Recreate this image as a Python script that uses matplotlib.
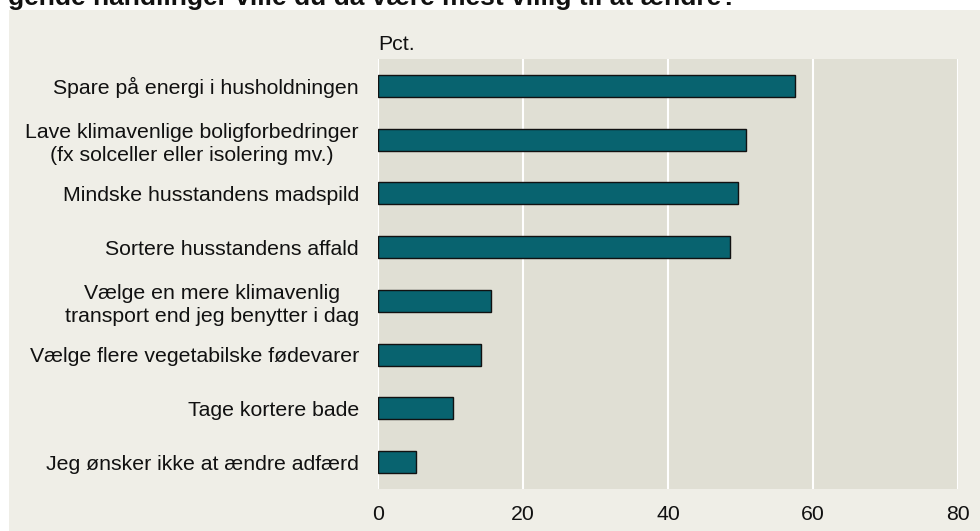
import matplotlib
matplotlib.use("Agg")
import matplotlib.pyplot as plt
from matplotlib.patches import Rectangle

categories = [
    "Spare på energi i husholdningen",
    "Lave klimavenlige boligforbedringer\n(fx solceller eller isolering mv.)",
    "Mindske husstandens madspild",
    "Sortere husstandens affald",
    "Vælge en mere klimavenlig\ntransport end jeg benytter i dag",
    "Vælge flere vegetabilske fødevarer",
    "Tage kortere bade",
    "Jeg ønsker ikke at ændre adfærd",
]
values = [57.5, 50.8, 49.7, 48.6, 15.6, 14.2, 10.3, 5.3]
xticks = [0, 20, 40, 60, 80]
title = "gende handlinger ville du da være mest villig til at ændre?"

plt.rcParams['font.family'] = ['Liberation Sans', 'DejaVu Sans']

W, H = 980, 531
FS = 15.3
fig = plt.figure(figsize=(W / 100, H / 100), dpi=100)
fig.patch.set_facecolor("white")
fig.patches.append(Rectangle((9 / W, 0), 1 - 9 / W, (H - 10) / H, transform=fig.transFigure,
                             facecolor="#EFEEE7", edgecolor="none", zorder=-10))

ax = fig.add_axes([378 / W, (H - 489) / H, (958 - 378) / W, (489 - 59) / H])
ax.set_facecolor("#E0DFD4")
ypos = list(range(len(categories)))
ax.barh(ypos, values, height=0.41, color="#08636F", edgecolor="#111111", linewidth=1.0, zorder=3)
ax.set_ylim(len(categories) - 0.5, -0.5)
ax.set_xlim(0, 80)
ax.set_xticks(xticks)
ax.set_xticklabels([str(t) for t in xticks], fontsize=FS, color="#111111")
ax.set_yticks(ypos)
ax.set_yticklabels(categories, fontsize=FS, color="#111111", ha="right",
                   multialignment="center", linespacing=1.3)
ax.tick_params(axis="both", length=0)
ax.tick_params(axis="y", pad=13.7)
ax.tick_params(axis="x", pad=11.5)
ax.grid(axis="x", color="white", linewidth=1.5, zorder=1)
ax.set_axisbelow(True)
for s in ax.spines.values():
    s.set_visible(False)

fig.text(378 / W, 1 - 45 / H, "Pct.", fontsize=FS, ha="left", va="center", color="#111111")
fig.text(8 / W, 1 - 5 / H, title, fontsize=19, fontweight="bold", ha="left", va="baseline", color="#111111")

fig.savefig("out.png", dpi=100, facecolor=fig.get_facecolor())
